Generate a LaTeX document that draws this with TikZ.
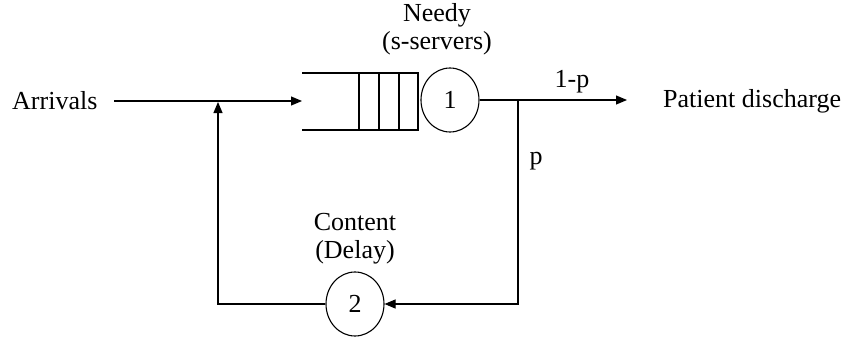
\documentclass[tikz,border=0pt]{standalone}
\usepackage{fontspec}
\setmainfont{Liberation Serif}
\usetikzlibrary{arrows.meta,shapes.geometric}
\begin{document}
\begin{tikzpicture}[x=1pt,y=-1pt,
  ln/.style={line width=1.1pt},
  arr/.style={ln,-{Triangle[length=11pt,width=9pt]}},
  srv/.style={ellipse,draw,line width=1.1pt,minimum width=58pt,minimum height=64pt,inner sep=0pt},
  lbl/.style={font=\fontsize{26}{30}\selectfont,inner sep=0pt}]
\useasboundingbox (0,0) rectangle (844,343);
% text labels
\node[lbl,anchor=west] (arrivals) at (12,101) {Arrivals};
\node[lbl] (needy) at (437,15) {Needy};
\node[lbl] (sserv) at (437,43) {(s-servers)};
\node[lbl] (content) at (355,222) {Content};
\node[lbl] (delay) at (355,252) {(Delay)};
\node[lbl] (onemp) at (572,82) {1-p};
\node[lbl] (p) at (536,161) {p};
\node[lbl,anchor=west] (discharge) at (663,101) {Patient discharge};
% servers
\node[srv,lbl] (s1) at (450,100) {1};
\node[srv,lbl] (s2) at (355,304) {2};
% queue
\coordinate (qtl) at (302,73);
\coordinate (qbl) at (302,130);
\coordinate (qin) at (302,101);
\draw[ln] (qtl) -- (418,73) -- (418,130) -- (qbl);
\draw[ln] (359,73) -- (359,130);
\draw[ln] (379,73) -- (379,130);
\draw[ln] (399,73) -- (399,130);
% connectors
\coordinate (astart) at (114,101);
\draw[arr] (astart) -- (qin);
\coordinate (branch) at (518,100);
\coordinate (outend) at (627,100);
\draw[arr] (s1.east) -- (outend);
\draw[arr] (branch) |- (s2.east);
\coordinate (fbtip) at (218,102);
\draw[arr] (s2.west) -| (fbtip);
\end{tikzpicture}
\end{document}
